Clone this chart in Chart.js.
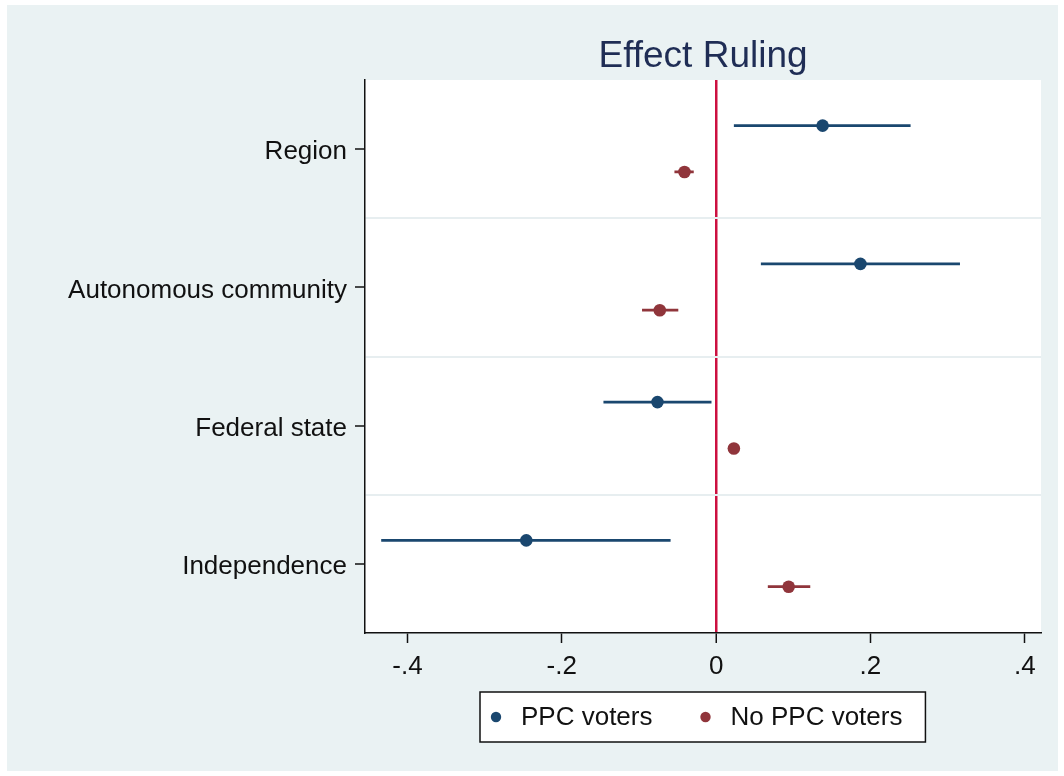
<!DOCTYPE html>
<html>
<head>
<meta charset="utf-8">
<title>Effect Ruling</title>
<script src="https://cdn.jsdelivr.net/npm/chart.js@4/dist/chart.umd.min.js"></script>
<style>
  html, body { margin: 0; padding: 0; background: #ffffff; }
  #wrap { width: 1064px; height: 776px; }
</style>
</head>
<body>
<div id="wrap"><canvas id="c" width="1064" height="776"></canvas></div>
<script>
// Outcome categories, top to bottom
const categories = ['Region', 'Autonomous community', 'Federal state', 'Independence'];

// PPC voters: point estimate and confidence interval
const ppcEst  = [0.138, 0.187, -0.076, -0.246];
const ppcLow  = [0.023, 0.058, -0.146, -0.434];
const ppcHigh = [0.252, 0.316, -0.006, -0.059];

// Non-PPC voters: point estimate and confidence interval
const noPpcEst  = [-0.041, -0.073, 0.023, 0.094];
const noPpcLow  = [-0.054, -0.096, 0.017, 0.067];
const noPpcHigh = [-0.029, -0.049, 0.029, 0.122];

const seriesNames = ['PPC voters', 'No PPC voters'];
const xTickValues = [-0.4, -0.2, 0, 0.2, 0.4];
const xTickLabels = ['-.4', '-.2', '0', '.2', '.4'];

const FONT = "'Liberation Sans', Arial, Helvetica, sans-serif";
const BLUE = '#1a476f';
const RED = '#90353b';
const ZERO = '#cc1040';
const BG = '#eaf2f3';
const INK = '#111111';
const CLEAR = 'rgba(0,0,0,0)';

// vertical shift of each series inside its category row
const shiftPpc = -0.17;
const shiftNoPpc = 0.165;

function pointsOf(est, shift) {
  return est.map((v, i) => ({ x: v, y: i + 1 + shift }));
}
function intervalsOf(lo, hi, shift) {
  const out = [];
  lo.forEach((l, i) => {
    const y = i + 1 + shift;
    out.push({ x: l, y: y }, { x: hi[i], y: y }, { x: hi[i], y: null });
  });
  return out;
}

// page background, plot region fill
const backdrop = {
  id: 'backdrop',
  beforeDraw(chart) {
    const { ctx, chartArea: a, width, height } = chart;
    ctx.save();
    ctx.fillStyle = '#ffffff';
    ctx.fillRect(0, 0, width, height);
    ctx.fillStyle = BG;
    ctx.fillRect(7, 5, width - 13, height - 10);
    ctx.fillStyle = '#ffffff';
    ctx.fillRect(a.left, a.top, a.right - a.left, a.bottom - a.top);
    ctx.restore();
  }
};

// boxed key below the axis
const keyBox = {
  id: 'keyBox',
  afterDraw(chart) {
    const { ctx, chartArea: a } = chart;
    const items = chart.data.datasets.filter(d => d.inKey);
    ctx.save();
    ctx.font = '26px ' + FONT;
    const padL = 16, toText = 25, gap = 53, padR = 23;
    const widths = items.map(d => ctx.measureText(d.label).width);
    let total = padL + padR + gap * (items.length - 1);
    widths.forEach(w => { total += toText + w; });
    const cx = (a.left + a.right) / 2;
    const left = Math.round(cx - total / 2);
    const top = a.bottom + 59;
    const h = 50;
    ctx.fillStyle = '#ffffff';
    ctx.fillRect(left, top, total, h);
    ctx.strokeStyle = INK;
    ctx.lineWidth = 1.5;
    ctx.strokeRect(left, top, total, h);
    const midY = top + h / 2;
    let x = left + padL;
    items.forEach((d, i) => {
      ctx.beginPath();
      ctx.fillStyle = d.pointBackgroundColor;
      ctx.arc(x, midY, 5.2, 0, Math.PI * 2);
      ctx.fill();
      ctx.fillStyle = INK;
      ctx.textAlign = 'left';
      ctx.textBaseline = 'middle';
      ctx.fillText(d.label, x + toText, midY + 1);
      x += toText + widths[i] + gap;
    });
    ctx.restore();
  }
};

const isWhole = v => Math.abs(v - Math.round(v)) < 1e-9;

new Chart(document.getElementById('c'), {
  type: 'scatter',
  data: {
    datasets: [
      {
        label: seriesNames[0], inKey: true, order: 0,
        data: pointsOf(ppcEst, shiftPpc),
        pointRadius: 6.3, pointStyle: 'circle',
        pointBackgroundColor: BLUE, pointBorderColor: BLUE, pointBorderWidth: 0
      },
      {
        label: seriesNames[1], inKey: true, order: 0,
        data: pointsOf(noPpcEst, shiftNoPpc),
        pointRadius: 6.3, pointStyle: 'circle',
        pointBackgroundColor: RED, pointBorderColor: RED, pointBorderWidth: 0
      },
      {
        label: seriesNames[0] + ' CI', order: 1,
        data: intervalsOf(ppcLow, ppcHigh, shiftPpc),
        showLine: true, spanGaps: false, pointRadius: 0,
        borderColor: BLUE, borderWidth: 2.8, borderCapStyle: 'butt'
      },
      {
        label: seriesNames[1] + ' CI', order: 1,
        data: intervalsOf(noPpcLow, noPpcHigh, shiftNoPpc),
        showLine: true, spanGaps: false, pointRadius: 0,
        borderColor: RED, borderWidth: 2.8, borderCapStyle: 'butt'
      }
    ]
  },
  options: {
    responsive: false,
    animation: false,
    events: [],
    layout: { padding: { left: 0, right: 23, top: 0, bottom: 93 } },
    plugins: {
      legend: { display: false },
      tooltip: { enabled: false },
      title: {
        display: true,
        fullSize: false,
        text: 'Effect Ruling',
        color: '#1f2d55',
        font: { family: FONT, size: 37, weight: 'normal' },
        padding: { top: 35, bottom: 0.6 }
      }
    },
    scales: {
      x: {
        type: 'linear',
        min: -0.455,
        max: 0.421,
        afterBuildTicks(s) { s.ticks = xTickValues.map(v => ({ value: v })); },
        afterFit(s) { s.height = 50; },
        ticks: {
          callback: (v, i) => xTickLabels[i],
          color: INK,
          font: { family: FONT, size: 26 },
          padding: 8,
          maxRotation: 0,
          autoSkip: false
        },
        grid: {
          drawOnChartArea: true,
          color: c => (c.tick && c.tick.value === 0) ? ZERO : CLEAR,
          lineWidth: c => (c.tick && c.tick.value === 0) ? 2.5 : 1,
          tickColor: INK,
          tickLength: 10,
          tickWidth: 1.5
        },
        border: { display: true, color: INK, width: 1.5 }
      },
      y: {
        type: 'linear',
        reverse: true,
        min: 0.5,
        max: 4.5,
        afterBuildTicks(s) {
          const t = [];
          for (let v = 1; v <= categories.length; v += 0.5) t.push({ value: v });
          s.ticks = t;
        },
        afterFit(s) { s.width = 365; },
        ticks: {
          callback: v => isWhole(v) ? categories[Math.round(v) - 1] : '',
          color: INK,
          font: { family: FONT, size: 26 },
          padding: 8,
          labelOffset: 3,
          autoSkip: false
        },
        grid: {
          drawOnChartArea: true,
          color: c => (c.tick && !isWhole(c.tick.value)) ? '#e7eef0' : CLEAR,
          lineWidth: 2,
          tickColor: c => (c.tick && isWhole(c.tick.value)) ? INK : CLEAR,
          tickLength: 10,
          tickWidth: 1.5
        },
        border: { display: true, color: INK, width: 1.5 }
      }
    }
  },
  plugins: [backdrop, keyBox]
});
</script>
</body>
</html>
